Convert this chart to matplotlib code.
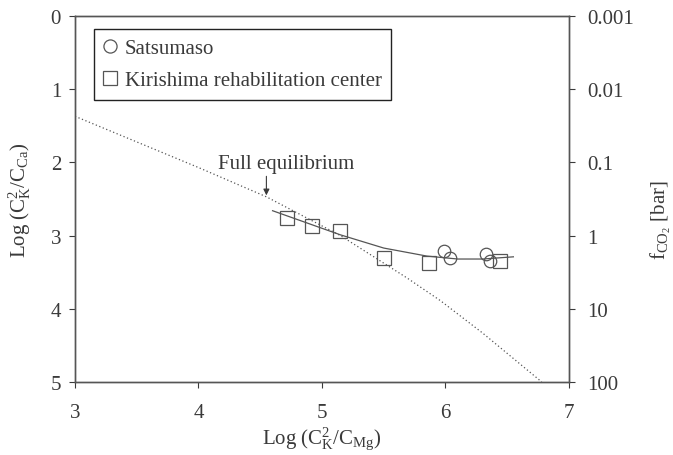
import matplotlib
matplotlib.use('Agg')
import matplotlib.pyplot as plt
from matplotlib.ticker import FixedLocator, FixedFormatter, NullLocator

plt.rcParams['font.family'] = 'Liberation Serif'
plt.rcParams['mathtext.fontset'] = 'custom'
plt.rcParams['mathtext.rm'] = 'Liberation Serif'
plt.rcParams['mathtext.it'] = 'Liberation Serif:italic'

INK = '#3a3a3a'
LINE = '#555555'

# measured points
sats_x = [5.99, 6.04, 6.33, 6.36]
sats_y = [3.21, 3.31, 3.25, 3.35]
kiri_x = [4.72, 4.92, 5.15, 5.50, 5.87, 6.44]
kiri_y = [2.76, 2.87, 2.94, 3.31, 3.37, 3.35]

# fitted trend (solid)
fit_x = [4.60, 4.80, 5.00, 5.15, 5.50, 5.85, 6.10, 6.30, 6.55]
fit_y = [2.66, 2.78, 2.90, 2.99, 3.17, 3.28, 3.32, 3.32, 3.29]

# full equilibrium line (dotted)
eq_x = [3.00, 3.50, 4.00, 4.55, 5.15, 5.69, 5.96, 6.30, 6.78]
eq_y = [1.37, 1.72, 2.07, 2.47, 3.00, 3.58, 3.89, 4.33, 5.00]

fco2_ticks = [0.001, 0.01, 0.1, 1, 10, 100]
fco2_labels = ['0.001', '0.01', '0.1', '1', '10', '100']

FS = 15

fig = plt.figure(figsize=(6.73, 4.56), dpi=100)
ax = fig.add_axes([0.1114, 0.1601, 0.734, 0.8026])

ax.plot(eq_x, eq_y, ls=(0, (1, 2.0)), color=LINE, lw=0.9)
ax.plot(fit_x, fit_y, '-', color=LINE, lw=0.9)
ax.plot(sats_x, sats_y, 'o', ms=9, mfc='none', mec=LINE, mew=0.9, ls='none',
        label='Satsumaso')
ax.plot(kiri_x, kiri_y, 's', ms=9.5, mfc='none', mec=LINE, mew=0.9, ls='none',
        label='Kirishima rehabilitation center')

ax.text(4.16, 2.02, 'Full equilibrium', fontsize=FS, color=INK, ha='left', va='center')
ax.annotate('', xy=(4.55, 2.45), xytext=(4.55, 2.19),
            arrowprops=dict(arrowstyle='-|>', color=INK, lw=0.8, mutation_scale=9,
                            shrinkA=0, shrinkB=0))

ax.set_xlim(3, 7)
ax.set_ylim(5, 0)
ax.set_xticks([3, 4, 5, 6, 7])
ax.set_yticks([0, 1, 2, 3, 4, 5])
ax.tick_params(colors=INK, labelsize=FS, length=4, width=0.8, direction='out')
ax.tick_params(axis='y', pad=6)
ax.tick_params(axis='x', pad=11)
for s in ax.spines.values():
    s.set_color(LINE)
    s.set_linewidth(1.0)

ax.set_xlabel(r'Log (C$^2_{\mathrm{K}}$/C$_{\mathrm{Mg}}$)', fontsize=FS, color=INK,
              labelpad=2)
ax.set_ylabel(r'Log (C$^2_{\mathrm{K}}$/C$_{\mathrm{Ca}}$)', fontsize=FS, color=INK)
ax.yaxis.set_label_coords(-0.085, 0.5)

ax2 = ax.twinx()
ax2.set_yscale('log')
ax2.set_ylim(100, 0.001)
ax2.yaxis.set_major_locator(FixedLocator(fco2_ticks))
ax2.yaxis.set_major_formatter(FixedFormatter(fco2_labels))
ax2.yaxis.set_minor_locator(NullLocator())
ax2.tick_params(colors=INK, labelsize=FS, length=4, width=0.8, direction='out', pad=9)
ax2.set_ylabel(r'f$_{\mathrm{CO_2}}$ [bar]', fontsize=FS, color=INK)
ax2.yaxis.set_label_coords(1.162, 0.445)
for s in ax2.spines.values():
    s.set_color(LINE)
    s.set_linewidth(1.0)

leg = ax.legend(loc='upper left', bbox_to_anchor=(0.038, 0.964), fontsize=FS,
                frameon=True, fancybox=False, framealpha=1, edgecolor='#222222',
                handlelength=0.7, handletextpad=0.35, labelspacing=0.6,
                borderpad=0.45, borderaxespad=0, markerscale=1.05, labelcolor=INK)
leg.get_frame().set_linewidth(1.0)

fig.savefig('out.png', dpi=100)
